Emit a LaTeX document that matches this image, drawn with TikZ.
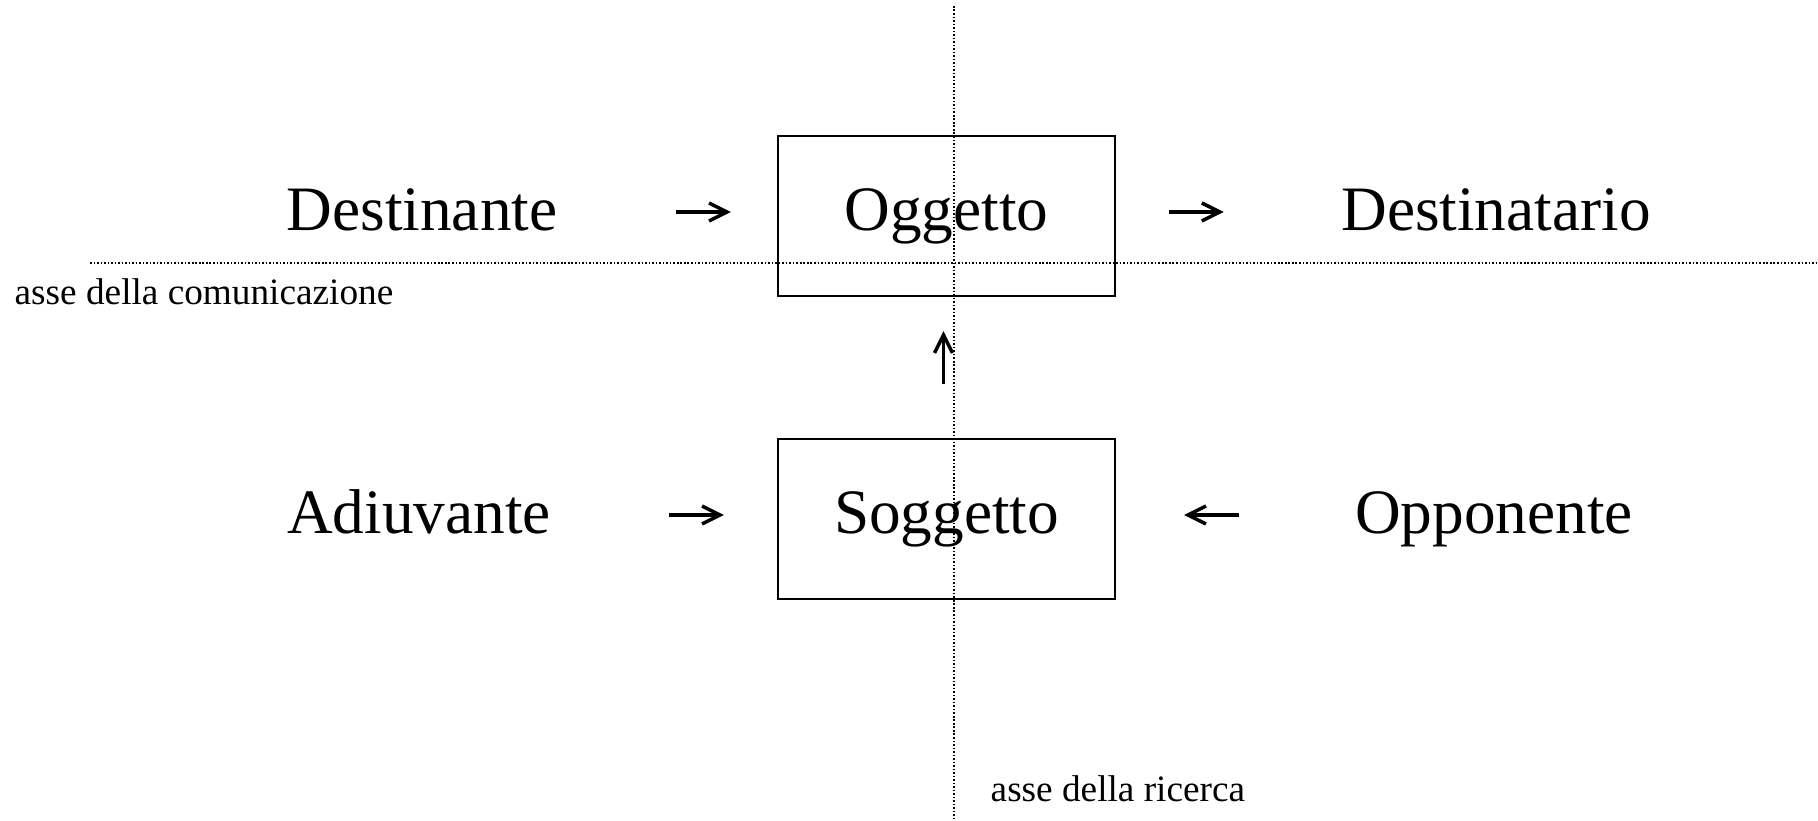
\documentclass[tikz,border=0pt]{standalone}
\usepackage{fontspec}
\setmainfont{Liberation Serif}
\usetikzlibrary{arrows.meta}

\tikzset{
    actant/.style={inner sep=0pt, font=\fontsize{18}{20}\selectfont, text height=12pt, text depth=4pt},
    actbox/.style={actant, draw, line width=0.6pt, minimum width=3.37cm, minimum height=1.6cm},
    axislabel/.style={inner sep=0pt, font=\fontsize{10.6}{12}\selectfont},
    axis/.style={line width=0.35pt, dash pattern=on 0.45pt off 0.55pt},
    link/.style={line width=1pt, -{Straight Barb[length=1.8mm, width=1.8mm]}},
    rowlink/.style={link, transform canvas={yshift=0.04cm}}
}

\begin{document}
\begin{tikzpicture}

    % Fix the page size
    \useasboundingbox (0, 0) rectangle (18.18, 8.21);

    % Define the coordinates of the two axes
    \coordinate (H1) at (0.90, 5.58);      % Left end of the horizontal axis
    \coordinate (H2) at (18.18, 5.58);     % Right end of the horizontal axis
    \coordinate (V1) at (9.54, 8.15);      % Top end of the vertical axis
    \coordinate (V2) at (9.54, 0);         % Bottom end of the vertical axis

    % Draw the axes
    \draw[axis] (H1) -- (H2);
    \draw[axis] (V1) -- (V2);

    % Top row
    \node[actant] (dest) at (4.22, 6.05) {Destinante};
    \node[actbox] (ogg) at (9.465, 6.05) {Oggetto};
    \node[actant] (destr) at (14.96, 6.05) {Destinatario};

    % Bottom row
    \node[actant] (adiu) at (4.19, 3.02) {Adiuvante};
    \node[actbox] (sog) at (9.465, 3.02) {Soggetto};
    \node[actant] (opp) at (14.94, 3.02) {Opponente};

    % Arrows of the top row
    \draw[rowlink, shorten <=1.18cm, shorten >=0.46cm] (dest) -- (ogg);
    \draw[rowlink, shorten <=0.53cm, shorten >=1.17cm] (ogg) -- (destr);

    % Arrow from Soggetto up to Oggetto
    \draw[link, shorten <=0.54cm, shorten >=0.34cm] ([xshift=-0.03cm]sog.north) -- ([xshift=-0.03cm]ogg.south);

    % Arrows of the bottom row
    \draw[rowlink, shorten <=1.18cm, shorten >=0.53cm] (adiu) -- (sog);
    \draw[rowlink, shorten <=1.16cm, shorten >=0.68cm] (opp) -- (sog);

    % Label the horizontal axis
    \node[axislabel, anchor=base west] (comlabel) at (0.14, 5.16) {asse della comunicazione};

    % Label the vertical axis
    \node[axislabel, anchor=base west] (riclabel) at (9.90, 0.19) {asse della ricerca};

\end{tikzpicture}
\end{document}
